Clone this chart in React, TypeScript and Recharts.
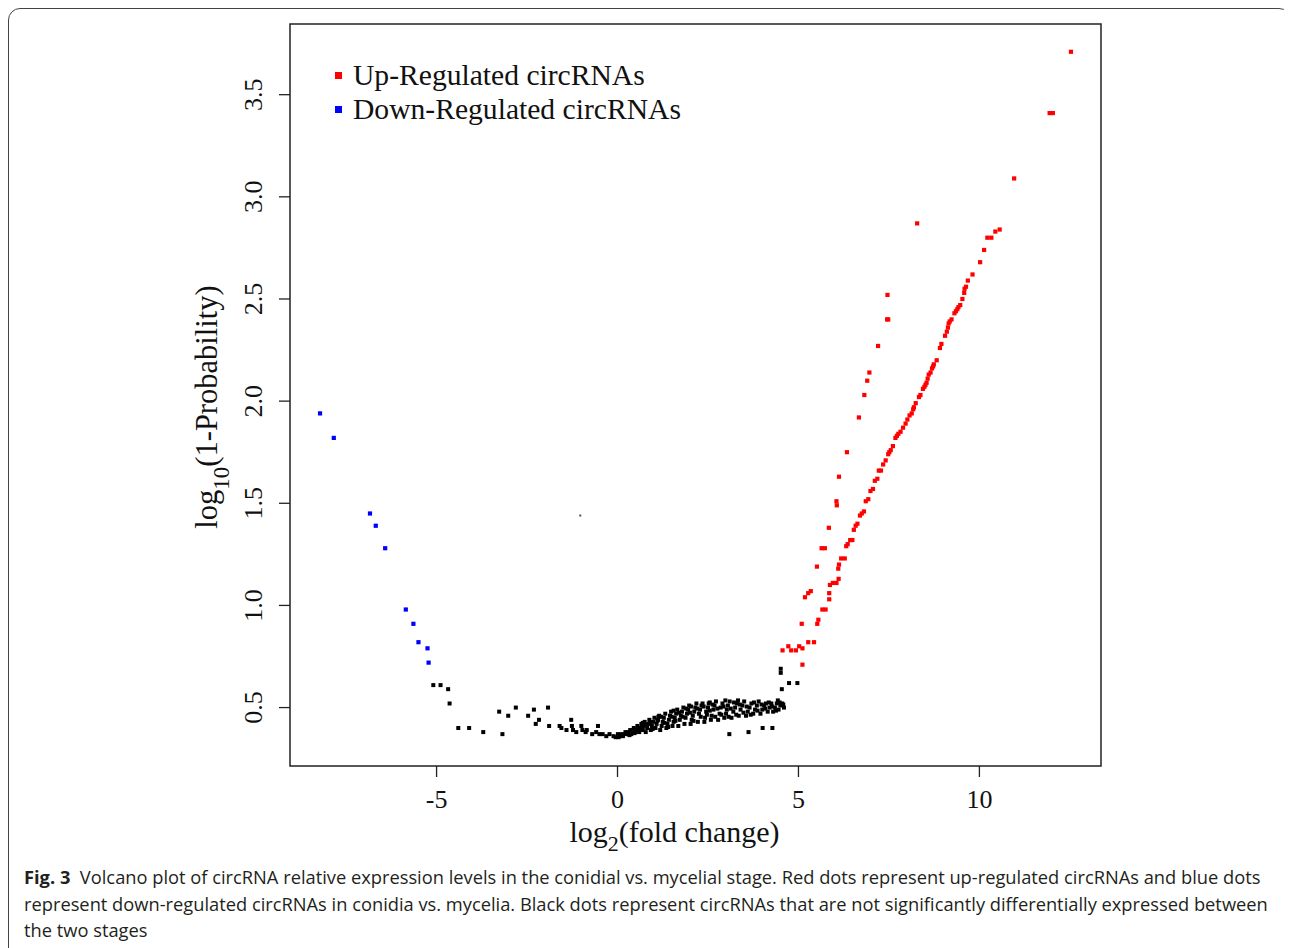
import React from "react";
import { ScatterChart, Scatter, XAxis, YAxis, ReferenceArea, Legend } from "recharts";

const SERIF = "'Liberation Serif', 'Times New Roman', serif";
const SANS = "'Open Sans', 'Noto Sans', sans-serif";

const X_TICKS = [-5, 0, 5, 10];
const Y_TICKS = [0.5, 1.0, 1.5, 2.0, 2.5, 3.0, 3.5];
const X_DOMAIN: [number, number] = [-9.05, 13.36];
const Y_DOMAIN: [number, number] = [0.214, 3.846];
const LEGEND_ORDER = ["Up-Regulated circRNAs", "Down-Regulated circRNAs"];

// up-regulated circRNAs (red)
const upRegulated: [number, number][] = [
  [12.53, 3.71], [11.94, 3.41], [12.03, 3.41], [10.96, 3.09], [8.28, 2.87],
  [10.56, 2.84], [10.44, 2.83], [10.22, 2.8], [10.33, 2.8], [10.13, 2.74],
  [10.02, 2.68], [9.81, 2.62], [9.68, 2.59], [9.63, 2.56], [9.59, 2.55],
  [9.58, 2.53], [9.53, 2.5], [9.47, 2.47], [9.42, 2.46], [9.39, 2.45], [9.35, 2.44],
  [9.31, 2.43], [9.23, 2.4], [9.18, 2.39], [9.15, 2.38], [9.13, 2.36],
  [9.1, 2.34], [9.05, 2.32], [8.95, 2.28], [8.91, 2.26], [8.82, 2.2], [8.74, 2.18],
  [8.72, 2.17], [8.69, 2.16], [8.65, 2.14], [8.6, 2.13], [8.57, 2.11], [8.54, 2.09],
  [8.51, 2.08], [8.48, 2.07], [8.44, 2.06], [8.37, 2.03], [8.33, 2.02], [8.24, 1.99],
  [8.19, 1.97], [8.17, 1.96], [8.13, 1.94], [8.07, 1.93], [8.01, 1.91],
  [7.96, 1.89], [7.89, 1.87], [7.82, 1.85], [7.76, 1.84], [7.72, 1.83], [7.68, 1.82],
  [7.61, 1.78], [7.55, 1.76], [7.51, 1.75], [7.48, 1.74], [7.41, 1.71], [7.34, 1.69],
  [7.28, 1.66], [7.22, 1.66], [7.18, 1.62], [7.11, 1.61], [7.06, 1.57],
  [6.99, 1.56], [6.93, 1.52], [6.86, 1.51], [6.81, 1.46], [6.75, 1.45],
  [6.7, 1.44], [6.63, 1.4], [6.58, 1.39], [6.53, 1.37], [6.49, 1.32],
  [6.43, 1.32], [6.36, 1.3], [6.32, 1.29], [6.28, 1.23], [6.18, 1.23],
  [6.12, 1.2], [6.1, 1.18], [6.11, 1.13], [6.05, 1.11], [5.95, 1.11],
  [5.87, 1.1], [5.85, 1.06], [5.85, 1.03], [5.75, 0.98], [5.66, 0.98],
  [5.55, 0.93], [5.52, 0.91], [5.43, 0.82], [5.27, 0.82], [5.11, 0.71],
  [7.46, 2.52], [7.45, 2.4], [7.48, 2.4], [7.2, 2.27], [6.96, 2.14],
  [6.9, 2.1], [6.82, 2.03], [6.67, 1.92], [6.34, 1.75], [6.12, 1.63],
  [6.05, 1.51], [6.06, 1.49], [5.84, 1.38], [5.64, 1.28], [5.73, 1.28],
  [5.51, 1.19], [5.18, 1.04], [5.27, 1.06], [5.34, 1.07], [5.09, 0.91],
  [4.56, 0.78], [4.72, 0.8], [4.8, 0.78], [4.93, 0.78], [5.02, 0.8], [5.11, 0.79],
];

// down-regulated circRNAs (blue)
const downRegulated: [number, number][] = [
  [-8.22, 1.94], [-7.84, 1.82], [-6.84, 1.45], [-6.68, 1.39], [-6.42, 1.28],
  [-5.85, 0.98], [-5.64, 0.91], [-5.5, 0.82], [-5.25, 0.79], [-5.22, 0.72],
];

// not significantly different (black)
const notSignificant: [number, number][] = [
  [-5.09, 0.61], [-4.89, 0.61], [-4.68, 0.59], [-4.64, 0.52], [-4.4, 0.4],
  [-4.1, 0.4], [-3.71, 0.38], [-3.18, 0.37], [-3.27, 0.48], [-3.02, 0.46],
  [-2.81, 0.5], [-2.47, 0.46], [-2.31, 0.49], [-2.17, 0.44], [-2.26, 0.42],
  [-1.92, 0.5], [-1.89, 0.41], [-1.6, 0.41], [-1.55, 0.4], [-1.41, 0.39],
  [-1.28, 0.44], [-1.26, 0.41], [-1.23, 0.39], [-1.14, 0.38], [-1.0, 0.41],
  [-0.97, 0.39], [-0.88, 0.38], [-0.85, 0.39], [-0.7, 0.37], [-0.59, 0.38],
  [-0.54, 0.41], [-0.5, 0.37], [-0.41, 0.37], [-0.31, 0.36], [-0.22, 0.37],
  [-0.11, 0.36], [-0.05, 0.355], [0.01, 0.37], [0.03, 0.355],
  [0.05, 0.36], [0.1, 0.37], [0.15, 0.36], [0.2, 0.37], [0.22, 0.38], [0.28, 0.37],
  [0.3, 0.38], [0.35, 0.39], [0.38, 0.37], [0.42, 0.38], [0.45, 0.4], [0.5, 0.38],
  [0.52, 0.39], [0.55, 0.41], [0.6, 0.38], [0.62, 0.4], [0.66, 0.42], [0.7, 0.39],
  [0.72, 0.41], [0.75, 0.43], [0.78, 0.38], [0.82, 0.4], [0.85, 0.42], [0.88, 0.44],
  [0.92, 0.39], [0.95, 0.41], [0.98, 0.43], [1.02, 0.45], [1.05, 0.4], [1.08, 0.42],
  [1.12, 0.44], [1.15, 0.46], [1.18, 0.39], [1.22, 0.41], [1.25, 0.43], [1.28, 0.45],
  [1.32, 0.47], [1.35, 0.4], [1.38, 0.42], [1.42, 0.44], [1.45, 0.46], [1.48, 0.48],
  [1.52, 0.41], [1.55, 0.43], [1.58, 0.45], [1.62, 0.47], [1.65, 0.49], [1.68, 0.41],
  [1.72, 0.44], [1.75, 0.46], [1.78, 0.48], [1.82, 0.5], [1.85, 0.42], [1.88, 0.45],
  [1.92, 0.47], [1.95, 0.49], [1.98, 0.51], [2.02, 0.42], [2.05, 0.44], [2.08, 0.46],
  [2.12, 0.48], [2.15, 0.5], [2.18, 0.52], [2.22, 0.43], [2.25, 0.47], [2.28, 0.49],
  [2.32, 0.51], [2.35, 0.52], [2.4, 0.43], [2.42, 0.45], [2.45, 0.48], [2.5, 0.5],
  [2.52, 0.52], [2.58, 0.44], [2.6, 0.46], [2.65, 0.49], [2.68, 0.51], [2.72, 0.53],
  [2.78, 0.44], [2.82, 0.47], [2.85, 0.5], [2.9, 0.52], [2.95, 0.45], [3.0, 0.47],
  [3.02, 0.49], [3.05, 0.51], [3.1, 0.53], [3.15, 0.45], [3.2, 0.48], [3.25, 0.5],
  [3.3, 0.52], [3.35, 0.46], [3.4, 0.49], [3.45, 0.51], [3.5, 0.53], [3.55, 0.46],
  [3.6, 0.48], [3.65, 0.5], [3.7, 0.52], [3.75, 0.47], [3.8, 0.49], [3.85, 0.51],
  [3.9, 0.53], [3.95, 0.47], [4.0, 0.49], [4.05, 0.51], [4.1, 0.52], [4.15, 0.48],
  [4.2, 0.5], [4.25, 0.52], [4.3, 0.48], [4.35, 0.5], [4.4, 0.52], [4.45, 0.49],
  [4.5, 0.51], [4.55, 0.52], [4.6, 0.5],
  [0.12, 0.365], [0.26, 0.375], [0.33, 0.365], [0.47, 0.375], [0.58, 0.395],
  [0.68, 0.405], [0.8, 0.415], [0.9, 0.425], [0.97, 0.395], [1.1, 0.435],
  [1.2, 0.455], [1.3, 0.425], [1.4, 0.405], [1.5, 0.455], [1.6, 0.435],
  [1.7, 0.475], [1.8, 0.455], [1.9, 0.495], [2.0, 0.475], [2.1, 0.435],
  [2.2, 0.495], [2.3, 0.455], [2.38, 0.505], [2.47, 0.465], [2.55, 0.485],
  [2.63, 0.515], [2.7, 0.455], [2.76, 0.495], [2.87, 0.465], [2.93, 0.505],
  [3.07, 0.455], [3.13, 0.495], [3.22, 0.525], [3.28, 0.465], [3.38, 0.515],
  [3.48, 0.475], [3.57, 0.505], [3.68, 0.465], [3.77, 0.525], [3.87, 0.485],
  [3.98, 0.515], [4.08, 0.495], [4.18, 0.525], [4.27, 0.505], [4.38, 0.485],
  [4.48, 0.525], [4.58, 0.515], [4.43, 0.535], [3.33, 0.535], [2.98, 0.535],
  [2.55, 0.525], [2.03, 0.505], [1.55, 0.485], [1.13, 0.455], [0.7, 0.425],
  [3.09, 0.37], [3.62, 0.38], [4.01, 0.4], [4.28, 0.4], [4.51, 0.69], [4.51, 0.67],
  [4.54, 0.59], [4.74, 0.62], [4.97, 0.62],
];

// a lone faint mark above the curve
const stray: [number, number][] = [[-1.03, 1.44]];

const toPoints = (arr: [number, number][]) => arr.map(([x, y]) => ({ x, y }));

const square = (size: number, color: string) => (props: any) => {
  const { cx, cy } = props;
  if (cx == null || cy == null) return <g />;
  return <rect x={cx - size / 2} y={cy - size / 2} width={size} height={size} fill={color} />;
};

const XTick = ({ x, y, payload }: any) => (
  <text x={x} y={y} dy={29} textAnchor="middle" fontFamily={SERIF} fontSize={26} fill="#111">
    {payload.value}
  </text>
);

const YTick = ({ x, y, payload }: any) => {
  const bx = x - 15;
  return (
    <text
      x={bx}
      y={y}
      transform={`rotate(-90, ${bx}, ${y})`}
      textAnchor="middle"
      fontFamily={SERIF}
      fontSize={26}
      fill="#111"
    >
      {Number(payload.value).toFixed(1)}
    </text>
  );
};

const XLabel = (props: any) => {
  const vb = props.viewBox;
  return (
    <text x={vb.x + vb.width / 2 - 21} y={vb.y + 76} textAnchor="middle" fontFamily={SERIF} fontSize={30} fill="#111">
      log<tspan dy={9} fontSize={22}>2</tspan>
      <tspan dy={-9}>(fold change)</tspan>
    </text>
  );
};

const YLabel = (props: any) => {
  const vb = props.viewBox;
  const lx = vb.x + vb.width - 73;
  const ly = vb.y + vb.height / 2 + 12;
  return (
    <text
      x={lx}
      y={ly}
      transform={`rotate(-90, ${lx}, ${ly})`}
      textAnchor="middle"
      fontFamily={SERIF}
      fontSize={30.5}
      fill="#111"
    >
      log<tspan dy={12} fontSize={23}>10</tspan>
      <tspan dy={-12}>(1-Probability)</tspan>
    </text>
  );
};

const LegendBox = ({ payload }: any) => {
  const entries = (payload || [])
    .filter((e: any) => LEGEND_ORDER.includes(e.value))
    .sort((a: any, b: any) => LEGEND_ORDER.indexOf(a.value) - LEGEND_ORDER.indexOf(b.value));
  return (
    <div style={{ fontFamily: SERIF, fontSize: 29.6, lineHeight: "34px", color: "#111" }}>
      {entries.map((entry: any) => (
        <div key={entry.value} style={{ display: "flex", alignItems: "center", height: 34, whiteSpace: "nowrap" }}>
          <span style={{ display: "inline-block", width: 7, height: 7, background: entry.color, marginRight: 11 }} />
          <span>{entry.value}</span>
        </div>
      ))}
    </div>
  );
};

export default function App() {
  return (
    <div style={{ position: "relative", width: 1284, height: 940, overflow: "hidden", background: "#fff" }}>
      <style>{"html,body{overflow:hidden}"}</style>
      <div
        style={{
          position: "absolute",
          left: 0,
          top: 0,
          width: 1281,
          height: 960,
          border: "1px solid #444",
          borderRadius: 12,
        }}
      />
      <div style={{ position: "absolute", left: 0, top: 0 }}>
        <ScatterChart width={1284} height={880} margin={{ top: 16, right: 191, bottom: 32, left: 202 }}>
          <XAxis
            dataKey="x"
            type="number"
            domain={X_DOMAIN}
            ticks={X_TICKS}
            allowDataOverflow
            axisLine={false}
            tickLine={{ stroke: "#222", strokeWidth: 1.3 }}
            tickSize={11}
            height={90}
            tick={XTick}
            label={XLabel}
          />
          <YAxis
            dataKey="y"
            type="number"
            domain={Y_DOMAIN}
            ticks={Y_TICKS}
            allowDataOverflow
            axisLine={false}
            tickLine={{ stroke: "#222", strokeWidth: 1.3 }}
            tickSize={11}
            width={80}
            tick={YTick}
            label={YLabel}
          />
          <ReferenceArea
            x1={X_DOMAIN[0]}
            x2={X_DOMAIN[1]}
            y1={Y_DOMAIN[0]}
            y2={Y_DOMAIN[1]}
            fill="none"
            stroke="#222"
            strokeWidth={1.5}
            ifOverflow="visible"
          />
          <Legend
            layout="vertical"
            verticalAlign="middle"
            align="center"
            content={LegendBox}
            wrapperStyle={{ position: "absolute", left: 327, top: 50, width: 400, height: 68 }}
          />
          <Scatter
            name="not significant"
            data={toPoints(notSignificant)}
            fill="#000"
            legendType="none"
            shape={square(4, "#000")}
            isAnimationActive={false}
          />
          <Scatter
            name="stray"
            data={toPoints(stray)}
            fill="#555"
            legendType="none"
            shape={square(2, "#555")}
            isAnimationActive={false}
          />
          <Scatter
            name="Up-Regulated circRNAs"
            data={toPoints(upRegulated)}
            fill="#ff0000"
            shape={square(4.2, "#ff0000")}
            isAnimationActive={false}
          />
          <Scatter
            name="Down-Regulated circRNAs"
            data={toPoints(downRegulated)}
            fill="#0000ff"
            shape={square(4.2, "#0000ff")}
            isAnimationActive={false}
          />
        </ScatterChart>
      </div>
      <div
        style={{
          position: "absolute",
          left: 16,
          top: 856,
          fontFamily: SANS,
          fontSize: 18.3,
          lineHeight: "26.5px",
          color: "#231f20",
          whiteSpace: "nowrap",
        }}
      >
        <div>
          <b>Fig. 3</b>&nbsp;&nbsp;Volcano plot of circRNA relative expression levels in the conidial vs. mycelial stage. Red
          dots represent up-regulated circRNAs and blue dots
        </div>
        <div>
          represent down-regulated circRNAs in conidia vs. mycelia. Black dots represent circRNAs that are not
          significantly differentially expressed between
        </div>
        <div>the two stages</div>
      </div>
    </div>
  );
}
